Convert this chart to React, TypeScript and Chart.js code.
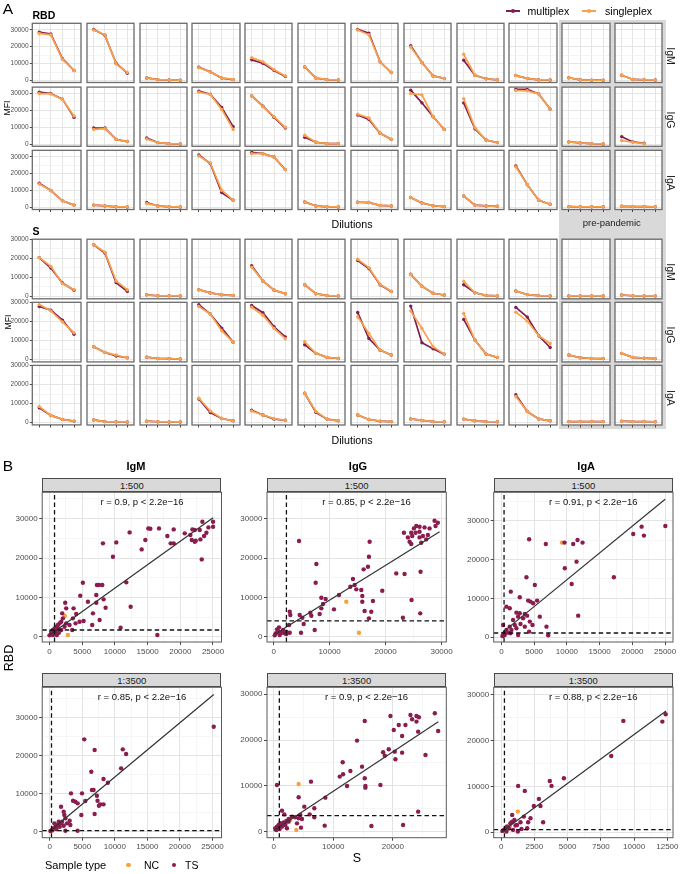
import React, { useEffect, useRef } from 'react';
import { Chart, registerables } from 'chart.js';

Chart.register(...registerables);

const FONT = "'Liberation Sans', Arial, Helvetica, sans-serif";
const MULTI_COL = '#7d1f52';
const SINGLE_COL = '#f9a24b';
const TS_COL = '#8b1c4f';
const NC_COL = '#f9a140';

// ---------------- Panel A data ----------------
const dilutionSteps = [1, 2, 3, 4];
const mfiMajor = [0, 10000, 20000, 30000];
const mfiMinor = [5000, 15000, 25000];
const rbdMfiRange = [-1200, 33800];
const sMfiRange = [-1300, 30100];

const rbdIgMMultiplex = [
  [28600, 27500, 12900, 5900], [30200, 26700, 10200, 4300], [1500, 500, 300, 200], [7800, 5100, 1400, 500],
  [12200, 10200, 5900, 2400], [8000, 1400, 500, 300], [30200, 28000, 11000, 4700], [20600, 10600, 2700, 1200],
  [12000, 3100, 1000, 400], [2900, 1200, 400, 300], [1600, 400, 200, 200], [3100, 600, 400, 300],
];
const rbdIgMSingleplex = [
  [27800, 27000, 12500, 5900], [29800, 27000, 9800, 4700], [1400, 500, 300, 200], [7500, 5100, 1500, 600],
  [13500, 11000, 6300, 2700], [8000, 1500, 500, 300], [29800, 27000, 11000, 4700], [19800, 10600, 2700, 1200],
  [15500, 3100, 1000, 400], [2900, 1200, 400, 300], [1600, 400, 200, 200], [3100, 600, 400, 300],
];
const rbdIgGMultiplex = [
  [30800, 30000, 26700, 15900], [9600, 9600, 2900, 1600], [3700, 1000, 400, 200], [31400, 29600, 21800, 10400],
  [28600, 22500, 15900, 9600], [4100, 1200, 400, 400], [17300, 14700, 6500, 2900], [32000, 24500, 16300, 8800],
  [24500, 9200, 2500, 1000], [32500, 32400, 29800, 20800], [1400, 800, 400, 200], [4500, 1400, 600, null],
];
const rbdIgGSingleplex = [
  [30000, 29800, 26500, 16700], [8800, 9200, 2900, 1600], [3100, 1000, 400, 200], [30800, 29400, 20600, 8800],
  [28600, 22200, 16300, 10000], [5300, 1200, 400, 400], [17800, 15500, 6500, 2900], [30000, 29200, 16300, 8800],
  [27000, 9800, 2500, 1000], [31800, 31600, 29800, 20800], [1400, 800, 400, 200], [2200, 1200, 400, null],
];
const rbdIgAMultiplex = [
  [14300, 10000, 3900, 1400], [1400, 900, 400, 300], [2900, 900, 400, 300], [31000, 26000, 8800, 4300],
  [32600, 31800, 29800, 22400], [3300, 900, 400, 300], [3100, 2900, 1200, 900], [5900, 2700, 1000, 500],
  [6800, 1400, 900, 700], [24500, 13500, 4300, 1900], [500, 400, 400, 400], [700, 500, 500, 400],
];
const rbdIgASingleplex = [
  [13900, 10000, 3900, 1400], [1400, 900, 400, 300], [2400, 900, 400, 300], [30400, 26300, 10200, 4300],
  [31800, 31800, 29800, 22400], [3300, 900, 400, 300], [3100, 2900, 1200, 900], [5900, 2700, 1000, 500],
  [6800, 1400, 900, 700], [24000, 13500, 4300, 1900], [500, 400, 400, 400], [700, 500, 500, 400],
];
const sIgMMultiplex = [
  [20400, 14900, 7000, 3200], [27200, 22800, 7200, 2600], [800, 300, 300, 200], [3500, 1800, 800, 500],
  [16100, 8100, 3200, 1400], [6100, 1400, 400, 200], [18900, 14600, 6100, 2600], [11600, 5300, 1600, 700],
  [6100, 1900, 500, 200], [2800, 900, 400, 200], [200, 200, 200, 200], [700, 300, 200, 200],
];
const sIgMSingleplex = [
  [20400, 15800, 6700, 3500], [27200, 23300, 8100, 3500], [800, 300, 300, 200], [3500, 1800, 800, 500],
  [15400, 8100, 3200, 1400], [6100, 1400, 400, 200], [19500, 15100, 6300, 2600], [11600, 5300, 1600, 700],
  [7900, 1900, 500, 200], [2800, 900, 400, 200], [200, 200, 200, 200], [700, 300, 200, 200],
];
const sIgGMultiplex = [
  [27900, 26000, 20700, 13300], [6700, 3700, 1800, 900], [1200, 500, 400, 200], [28800, 23900, 16500, 9100],
  [28400, 24600, 17200, 11900], [7700, 3200, 1100, 500], [24700, 11000, 4900, 2300], [28100, 8800, 5600, 2800],
  [21100, 10200, 2800, 1100], [27400, 22300, 12500, 6300], [2300, 900, 500, 400], [3200, 1100, 700, 400],
];
const sIgGSingleplex = [
  [28900, 25600, 19800, 14000], [6700, 3700, 2300, 900], [1200, 500, 400, 200], [27900, 23900, 15100, 9100],
  [27500, 23300, 16300, 10900], [9300, 3200, 1100, 500], [22500, 13700, 4900, 2300], [25600, 16300, 6700, 2800],
  [24200, 10200, 2800, 1100], [24900, 20200, 12500, 8400], [2300, 900, 500, 400], [3200, 1100, 700, 400],
];
const sIgAMultiplex = [
  [7700, 3700, 1600, 700], [1400, 500, 400, 300], [700, 400, 300, 300], [12400, 5300, 2100, 900],
  [6500, 4000, 1800, 1200], [15400, 5400, 1800, 900], [4000, 1600, 700, 500], [1900, 1100, 500, 400],
  [1800, 900, 500, 400], [14600, 5800, 1900, 900], [500, 500, 500, 500], [700, 500, 500, 400],
];
const sIgASingleplex = [
  [8400, 3700, 1600, 700], [1400, 500, 400, 300], [700, 400, 300, 300], [12800, 6100, 2100, 900],
  [6100, 4000, 2100, 1200], [15400, 5800, 1800, 900], [4000, 1600, 700, 500], [1900, 1100, 500, 400],
  [1800, 900, 500, 400], [13700, 5800, 1900, 900], [500, 500, 500, 500], [700, 500, 500, 400],
];
const isotypes = ['IgM', 'IgG', 'IgA'];

// ---------------- Panel B data ----------------
const igm500TS = [[25010,29220],[23380,29220],[24300,27780],[25010,27950],[23990,26430],[23640,25580],[23070,24730],[22360,24390],[22210,24140],[21750,24560],[20680,26260],[21850,27270],[22210,27100],[22970,27100],[23280,19650],[21540,25830],[18990,27270],[18020,25580],[18530,23720],[18990,23720],[16740,27530],[15420,27440],[15110,27530],[14650,24560],[14090,22190],[12250,26510],[10210,23970],[8170,23720],[9700,20330],[11740,13810],[12410,7620],[10870,2290],[16490,420],[5100,13720],[7250,13130],[7560,13130],[8070,13130],[4700,10420],[7150,10590],[8270,9490],[8580,7370],[5870,8890],[7150,8640],[3680,7200],[4080,5760],[2400,8640],[2550,7200],[1940,5930],[6640,5930],[5210,3980],[4600,3810],[6530,2960],[7660,4240],[3570,4660],[3980,3390],[3470,1690],[250,1270],[510,1690],[770,2120],[1020,2540],[1280,2960],[1530,3390],[1790,3810],[1280,2120],[510,420],[250,850],[920,1270],[2300,2540],[2550,3390],[3060,2960],[2040,4660],[0,340],[410,1020],[1120,420],[1790,1690],[1430,1020]];
const igm500NC = [[2350,5250],[2810,420],[610,1020],[410,420]];
const igg500TS = [[28740,29480],[29330,28970],[28920,28120],[27850,27530],[26950,27780],[26060,27950],[25470,28120],[25050,27530],[26060,26680],[25350,26430],[24570,26430],[24750,25580],[23980,25240],[24280,24140],[24570,23550],[26060,25240],[26660,25580],[27250,24730],[27550,25830],[26360,23890],[23270,26430],[21900,16090],[23380,15920],[26240,16520],[17140,24140],[17020,20330],[16840,17790],[16070,17110],[7620,18460],[7500,13720],[4520,24310],[14160,14650],[13690,12710],[14460,13130],[14760,12030],[11660,10590],[15650,11860],[15830,10330],[15830,8890],[17730,9060],[19400,11690],[16240,6520],[17430,6350],[17020,4660],[23090,4830],[24630,9320],[26180,5930],[8510,9910],[9280,9570],[8810,8300],[8510,7200],[8210,5760],[10770,6950],[6550,6100],[6720,5340],[4640,5510],[5120,4830],[5360,3220],[4880,1020],[7320,1690],[2860,6350],[2970,5510],[2740,2960],[2260,1270],[2860,1020],[360,850],[770,1270],[1070,420],[1370,1020],[1670,1690],[1960,850],[600,1860],[180,340],[2260,680],[950,2370]];
const igg500NC = [[12970,8890],[15230,1020],[480,1020],[770,1690],[1190,850],[1550,1270]];
const iga500TS = [[25030,28620],[21410,28450],[20130,26570],[21760,26140],[4230,25200],[6780,24000],[9630,24340],[10960,24000],[11620,25020],[12390,24340],[11470,19450],[9680,17740],[10730,13710],[17170,15430],[3820,15430],[5100,13450],[1430,11740],[2800,10280],[4080,9430],[4430,9170],[4840,8740],[5450,9430],[760,7880],[1270,7460],[5860,5310],[11720,5570],[2290,6340],[2800,6170],[3570,6000],[3920,5570],[2550,5310],[3310,4890],[1780,4460],[4330,4030],[4740,3170],[6880,2740],[7140,510],[4230,1460],[2550,600],[3570,2740],[250,3170],[760,1890],[1020,1200],[510,600],[150,340],[1270,2740],[1530,1890],[2040,3170],[2290,2310],[2910,3430],[1380,1030],[660,1200]];
const iga500NC = [[9230,24340]];
const igm3500TS = [[25190,27560],[5300,24240],[6890,21440],[11220,21610],[11730,20390],[10960,16630],[6380,15750],[6480,10940],[6730,10940],[8260,13830],[8930,12860],[7240,9450],[4950,10060],[3260,10060],[3570,8140],[3930,7880],[4280,7440],[7340,8140],[7750,7180],[8260,7180],[7550,6830],[6890,4640],[4850,4380],[5460,8050],[1730,6560],[2140,5250],[2240,4380],[2400,3500],[3060,2890],[3160,1750],[2400,260],[4280,260],[1380,2630],[1630,2190],[1120,1750],[870,1310],[510,880],[360,440],[710,2190],[1890,2630],[1530,1310],[1020,700],[100,180],[2140,1580],[2650,2190]];
const igm3500NC = [[360,260],[760,700]];
const igg3500TS = [[27050,25810],[27610,21970],[19600,25230],[22960,25450],[23240,24510],[23970,25230],[24370,24940],[23970,24000],[22120,23270],[21000,23270],[20160,22190],[24250,21820],[21560,20880],[15290,24140],[14000,19870],[19320,17980],[20330,17470],[20440,15800],[21560,17250],[18370,17330],[18650,16600],[25480,16750],[11590,15150],[11650,12540],[11090,12040],[12880,13270],[14840,14210],[12320,10000],[15290,11670],[15400,10000],[15400,9640],[17920,10220],[6270,10950],[560,10220],[4200,7540],[8680,7470],[5150,5510],[6830,5150],[6050,3840],[6830,3190],[8570,1380],[16410,1310],[21730,1520],[24250,4420],[1400,4640],[1790,3840],[4480,3700],[4200,2970],[4760,2830],[3920,1880],[4590,940],[3640,3190],[3080,3340],[2520,2830],[2130,2390],[1680,2100],[1120,1890],[840,1520],[560,1160],[280,800],[1010,650],[1400,1160],[1960,1520],[2520,2250],[450,440],[2240,800]];
const igg3500NC = [[4200,10440],[3810,440],[2800,2610],[2100,2000]];
const iga3500TS = [[12370,25770],[12120,24170],[9190,24320],[8280,16670],[4720,11790],[3660,11210],[3790,10120],[1280,10120],[1780,9030],[2840,7280],[2960,5750],[2460,5750],[2210,3060],[3160,2180],[2030,2180],[1960,870],[1710,3420],[1460,2180],[830,3790],[1260,150],[1530,730],[1080,1460],[700,1970],[450,1240],[330,870],[200,510],[580,870],[830,2330],[1000,2690],[1200,1600],[900,510],[100,290],[400,150]];
const iga3500NC = [[1260,4510],[660,1240]];

const igm500Fit = [[0, 430], [25010, 30250]];
const igg500Fit = [[180, 600], [29640, 26700]];
const iga500Fit = [[0, 1000], [25000, 35500]];
const igm3500Fit = [[0, 100], [25200, 36000]];
const igg3500Fit = [[0, 280], [27630, 23980]];
const iga3500Fit = [[0, 0], [12400, 26500]];

const igm500Cut = [766, 1700];
const igg500Cut = [2270, 4000];
const iga500Cut = [400, 1100];
const igm3500Cut = [265, 260];
const igg3500Cut = [960, 3540];
const iga3500Cut = [250, 570];

const ticks25k = [0, 5000, 10000, 15000, 20000, 25000];
const minor25k = [2500, 7500, 12500, 17500, 22500];
const ticks30k = [0, 10000, 20000, 30000];
const minor30k = [5000, 15000, 25000, 35000];
const ticks12k = [0, 2500, 5000, 7500, 10000, 12500];
const minor12k = [1250, 3750, 6250, 8750, 11250];

const stats = ['r = 0.9, p < 2.2e\u221216', 'r = 0.85, p < 2.2e\u221216', 'r = 0.91, p < 2.2e\u221216',
  'r = 0.85, p < 2.2e\u221216', 'r = 0.9, p < 2.2e\u221216', 'r = 0.88, p < 2.2e\u221216'];
const dilutionLabels = ['1:500', '1:3500'];

// ---------------- helpers ----------------
function framePlugin(color: string, width: number) {
  return {
    id: 'frame',
    beforeDraw(chart: any) {
      const { ctx, chartArea: a } = chart;
      ctx.save();
      ctx.fillStyle = '#ffffff';
      ctx.fillRect(a.left, a.top, a.right - a.left, a.bottom - a.top);
      ctx.restore();
    },
    afterDraw(chart: any) {
      const { ctx, chartArea: a } = chart;
      ctx.save();
      ctx.strokeStyle = color;
      ctx.lineWidth = width;
      ctx.strokeRect(a.left, a.top, a.right - a.left, a.bottom - a.top);
      ctx.restore();
    },
  };
}

type Rect = { x: number; y: number; w: number; h: number };
type Pad = { l: number; t: number; r: number; b: number };

function ChartCanvas({ rect, minPad, makeConfig }: { rect: Rect; minPad: Pad; makeConfig: (p: Pad) => any }) {
  const ref = useRef<HTMLCanvasElement | null>(null);
  const left = Math.floor(rect.x - minPad.l);
  const top = Math.floor(rect.y - minPad.t);
  const W = Math.ceil(rect.x + rect.w + minPad.r) - left;
  const H = Math.ceil(rect.y + rect.h + minPad.b) - top;
  const pad = { l: rect.x - left, t: rect.y - top, r: left + W - rect.x - rect.w, b: top + H - rect.y - rect.h };
  useEffect(() => {
    const chart = new Chart(ref.current as HTMLCanvasElement, makeConfig(pad));
    return () => chart.destroy();
  }, []);
  return <canvas ref={ref} width={W} height={H} style={{ position: 'absolute', left, top, width: W, height: H }} />;
}

function Label({ x, y, text, size, bold, rotate, align = 'center', color = '#000' }: any) {
  const tx = align === 'center' ? '-50%' : align === 'left' ? '0%' : '-100%';
  return (
    <div style={{ position: 'absolute', left: x, top: y, transform: `translate(${tx}, -50%)${rotate ? ` rotate(${rotate}deg)` : ''}`,
      fontSize: size, fontWeight: bold ? 700 : 400, fontFamily: FONT, whiteSpace: 'nowrap', lineHeight: 1, color }}>{text}</div>
  );
}

function lineConfig(multi: any[], single: any[], range: number[], showY: boolean, showX: boolean, pad: Pad) {
  const toPts = (arr: any[]) => dilutionSteps.map((x, i) => ({ x, y: arr[i] }));
  const ds = (label: string, arr: any[], col: string) => ({
    label, data: toPts(arr), borderColor: col, backgroundColor: col, borderWidth: 1.7,
    pointRadius: 1.7, pointBorderWidth: 0, pointBackgroundColor: col, tension: 0,
  });
  const allY = [...mfiMajor, ...mfiMinor].filter((v) => v >= range[0] && v <= range[1]).sort((a, b) => a - b);
  return {
    type: 'line',
    data: { datasets: [ds('singleplex', single, SINGLE_COL), ds('multiplex', multi, MULTI_COL)] },
    options: {
      responsive: false, animation: false, events: [],
      layout: { padding: { left: 0, top: pad.t, right: pad.r, bottom: 0 } },
      plugins: { legend: { display: false }, tooltip: { enabled: false } },
      scales: {
        x: {
          type: 'linear', min: 0.4, max: 4.6,
          afterBuildTicks: (s: any) => { s.ticks = dilutionSteps.map((v) => ({ value: v })); },
          afterFit: (s: any) => { s.height = pad.b; },
          ticks: { display: showX, callback: () => '', autoSkip: false, maxRotation: 0, minRotation: 0 },
          grid: { color: '#e2e2e2', lineWidth: 0.9, drawTicks: showX, tickLength: 2.5, tickColor: '#333', tickWidth: 0.9 },
          border: { display: false },
        },
        y: {
          type: 'linear', min: range[0], max: range[1],
          afterBuildTicks: (s: any) => { s.ticks = allY.map((v) => ({ value: v })); },
          afterFit: (s: any) => { s.width = pad.l; },
          ticks: { display: showY, autoSkip: false, padding: 1.2, color: '#4d4d4d', font: { family: FONT, size: 6.5 },
            callback: (v: number) => (mfiMajor.includes(v) ? String(v) : '') },
          grid: {
            color: (c: any) => (c.tick && mfiMajor.includes(c.tick.value) ? '#e2e2e2' : '#efefef'),
            lineWidth: (c: any) => (c.tick && mfiMajor.includes(c.tick.value) ? 0.9 : 0.7),
            drawTicks: showY, tickLength: 2.5, tickWidth: 0.9,
            tickColor: (c: any) => (c.tick && mfiMajor.includes(c.tick.value) ? '#333' : 'rgba(0,0,0,0)'),
          },
          border: { display: false },
        },
      },
    },
    plugins: [framePlugin('#6b6b6b', 1.3)],
  };
}

function axisCfg(lim: number[], major: number[], minor: number[], fitFn: (s: any) => void) {
  const all = [...major, ...minor].filter((v) => v >= lim[0] && v <= lim[1]).sort((a, b) => a - b);
  const isMaj = (c: any) => c.tick && major.includes(c.tick.value);
  return {
    type: 'linear', min: lim[0], max: lim[1],
    afterBuildTicks: (s: any) => { s.ticks = all.map((v) => ({ value: v })); },
    afterFit: fitFn,
    ticks: { autoSkip: false, maxRotation: 0, minRotation: 0, padding: 1.5, color: '#4d4d4d', font: { family: FONT, size: 8 },
      callback: (v: number) => (major.includes(v) ? String(v) : '') },
    grid: {
      color: (c: any) => (isMaj(c) ? '#e3e3e3' : '#f0f0f0'),
      lineWidth: (c: any) => (isMaj(c) ? 1 : 0.6),
      drawTicks: true, tickLength: 3, tickWidth: 0.9,
      tickColor: (c: any) => (isMaj(c) ? '#333' : 'rgba(0,0,0,0)'),
    },
    border: { display: false },
  };
}

function scatterConfig(p: any, pad: Pad) {
  const [yMin, yMax] = p.yLim;
  const [xMin, xMax] = p.xLim;
  const lineDs = (data: any[], color: string, width: number, dash: number[]) => ({
    data, showLine: true, borderColor: color, borderWidth: width, borderDash: dash, pointRadius: 0, fill: false,
  });
  const pts = (arr: number[][]) => arr.map(([x, y]) => ({ x, y }));
  return {
    type: 'scatter',
    data: {
      datasets: [
        lineDs([{ x: p.cut[0], y: yMin }, { x: p.cut[0], y: yMax }], '#111', 1.3, [4.5, 3]),
        lineDs([{ x: xMin, y: p.cut[1] }, { x: xMax, y: p.cut[1] }], '#111', 1.3, [4.5, 3]),
        lineDs(pts(p.fit), '#333', 1.2, []),
        { data: pts(p.ts), pointRadius: 2.2, pointBackgroundColor: TS_COL, pointBorderWidth: 0, showLine: false },
        { data: pts(p.nc), pointRadius: 2.2, pointBackgroundColor: NC_COL, pointBorderWidth: 0, showLine: false },
      ],
    },
    options: {
      responsive: false, animation: false, events: [],
      layout: { padding: { left: 0, top: pad.t, right: pad.r, bottom: 0 } },
      plugins: { legend: { display: false }, tooltip: { enabled: false } },
      scales: {
        x: axisCfg(p.xLim, p.xTicks, p.xMinor, (s: any) => { s.height = pad.b; }),
        y: axisCfg(p.yLim, ticks30k, minor30k, (s: any) => { s.width = pad.l; }),
      },
    },
    plugins: [framePlugin('#5a5a5a', 1)],
  };
}

// ---------------- layout ----------------
const colLeft0 = 32.3;
const colPitch = 52.85;
const colW = 50.3;
const rbdRowTops = [23.3, 87.1, 150.3];
const sRowTops = [239.2, 302.3, 365.4];
const rowHeights = [59.2, 59.6];

const blocks = [
  { name: 'RBD', tops: rbdRowTops, h: rowHeights[0], range: rbdMfiRange,
    rows: [[rbdIgMMultiplex, rbdIgMSingleplex], [rbdIgGMultiplex, rbdIgGSingleplex], [rbdIgAMultiplex, rbdIgASingleplex]] },
  { name: 'S', tops: sRowTops, h: rowHeights[1], range: sMfiRange,
    rows: [[sIgMMultiplex, sIgMSingleplex], [sIgGMultiplex, sIgGSingleplex], [sIgAMultiplex, sIgASingleplex]] },
];

const bColX = [42.2, 267, 493.7];
const bColW = 179.3;
const bRowY = [492.3, 687.3];
const bRowH = [149.7, 150.4];
const stripH = 14;

const scatterPanels = [
  { ts: igm500TS, nc: igm500NC, fit: igm500Fit, cut: igm500Cut, xLim: [-1120, 26300], yLim: [-1350, 36700], xTicks: ticks25k, xMinor: minor25k },
  { ts: igg500TS, nc: igg500NC, fit: igg500Fit, cut: igg500Cut, xLim: [-1200, 30840], yLim: [-1350, 36700], xTicks: ticks30k, xMinor: minor30k },
  { ts: iga500TS, nc: iga500NC, fit: iga500Fit, cut: iga500Cut, xLim: [-1180, 26200], yLim: [-1210, 37275], xTicks: ticks25k, xMinor: minor25k },
  { ts: igm3500TS, nc: igm3500NC, fit: igm3500Fit, cut: igm3500Cut, xLim: [-1163, 26385], yLim: [-1575, 37900], xTicks: ticks25k, xMinor: minor25k },
  { ts: igg3500TS, nc: igg3500NC, fit: igg3500Fit, cut: igg3500Cut, xLim: [-1110, 28975], yLim: [-1240, 31457], xTicks: ticks30k, xMinor: minor30k },
  { ts: iga3500TS, nc: iga3500NC, fit: iga3500Fit, cut: iga3500Cut, xLim: [-557, 12922], yLim: [-1190, 31660], xTicks: ticks12k, xMinor: minor12k },
];
const statCenters = [142, 366.5, 593.3];
const titleCenters = [136, 358, 586.2];

export default function App() {
  const charts: any[] = [];
  blocks.forEach((b, bi) => {
    b.rows.forEach((row, ri) => {
      row[0].forEach((_: any, ci: number) => {
        const rect = { x: colLeft0 + ci * colPitch, y: b.tops[ri], w: colW, h: b.h };
        charts.push(
          <ChartCanvas key={`a-${bi}-${ri}-${ci}`} rect={rect} minPad={{ l: ci === 0 ? 26 : 2, t: 7, r: 2, b: 5 }}
            makeConfig={(pad) => lineConfig(row[0][ci], row[1][ci], b.range, ci === 0, ri === 2, pad)} />
        );
      });
    });
  });

  const scatterEls: any[] = [];
  scatterPanels.forEach((p, i) => {
    const r = Math.floor(i / 3);
    const c = i % 3;
    const rect = { x: bColX[c], y: bRowY[r], w: bColW, h: bRowH[r] };
    scatterEls.push(
      <div key={`strip-${i}`} style={{ position: 'absolute', left: rect.x, top: rect.y - stripH, width: rect.w, height: stripH,
        boxSizing: 'border-box', background: '#d9d9d9', border: '1px solid #4a4a4a', fontFamily: FONT, fontSize: 9.5,
        color: '#1a1a1a', display: 'flex', alignItems: 'center', justifyContent: 'center' }}>{dilutionLabels[r]}</div>
    );
    scatterEls.push(
      <ChartCanvas key={`b-${i}`} rect={rect} minPad={{ l: 32, t: 8, r: 14, b: 20 }} makeConfig={(pad) => scatterConfig(p, pad)} />
    );
    scatterEls.push(<Label key={`stat-${i}`} x={statCenters[c]} y={rect.y + 10} text={stats[i]} size={9.5} color="#111" />);
  });

  return (
    <div style={{ position: 'fixed', left: 0, top: 0, width: 680, height: 874, overflow: 'hidden', background: '#fff', fontFamily: FONT }}>
      {/* pre-pandemic background */}
      <div style={{ position: 'absolute', left: 559, top: 20, width: 106.5, height: 409, background: '#d9d9d9' }} />
      {charts}
      <Label x={8} y={8.5} text="A" size={15.5} />
      <Label x={32.5} y={15.3} text="RBD" size={10.5} bold align="left" />
      <Label x={32.5} y={231} text="S" size={10.5} bold align="left" />
      <Label x={611.8} y={222.5} text="pre-pandemic" size={9.5} color="#1a1a1a" />
      <Label x={352} y={224} text="Dilutions" size={10.7} />
      <Label x={352} y={440} text="Dilutions" size={10.7} />
      <Label x={6.5} y={107.5} text="MFI" size={8.7} rotate={-90} />
      <Label x={7.5} y={322} text="MFI" size={8.7} rotate={-90} />
      {blocks.map((b, bi) => isotypes.map((iso, ri) => (
        <Label key={`iso-${bi}-${ri}`} x={671} y={b.tops[ri] + b.h / 2 + 3} text={iso} size={10.5} rotate={90} color="#1a1a1a" />
      )))}
      {/* legend A */}
      <div style={{ position: 'absolute', left: 506, top: 10.2, width: 14, height: 1.6, background: MULTI_COL }} />
      <div style={{ position: 'absolute', left: 511, top: 9, width: 4, height: 4, borderRadius: 2, background: MULTI_COL }} />
      <Label x={527.5} y={10.8} text="multiplex" size={10.6} align="left" />
      <div style={{ position: 'absolute', left: 582, top: 10.2, width: 14, height: 1.6, background: SINGLE_COL }} />
      <div style={{ position: 'absolute', left: 587, top: 9, width: 4, height: 4, borderRadius: 2, background: SINGLE_COL }} />
      <Label x={605} y={10.8} text="singleplex" size={10.6} align="left" />

      {/* Panel B */}
      <Label x={8} y={465.5} text="B" size={15.5} />
      {isotypes.map((iso, c) => (
        <Label key={`t-${iso}`} x={titleCenters[c]} y={466} text={iso} size={11} bold />
      ))}
      {scatterEls}
      <Label x={9} y={658} text="RBD" size={12.5} rotate={-90} />
      <Label x={357} y={858} text="S" size={12.5} />
      <Label x={45} y={865} text="Sample type" size={11} align="left" />
      <div style={{ position: 'absolute', left: 126, top: 862.7, width: 4.6, height: 4.6, borderRadius: 2.3, background: NC_COL }} />
      <Label x={144} y={865} text="NC" size={10.5} align="left" />
      <div style={{ position: 'absolute', left: 171.7, top: 862.7, width: 4.6, height: 4.6, borderRadius: 2.3, background: TS_COL }} />
      <Label x={185} y={865} text="TS" size={10.5} align="left" />
    </div>
  );
}
